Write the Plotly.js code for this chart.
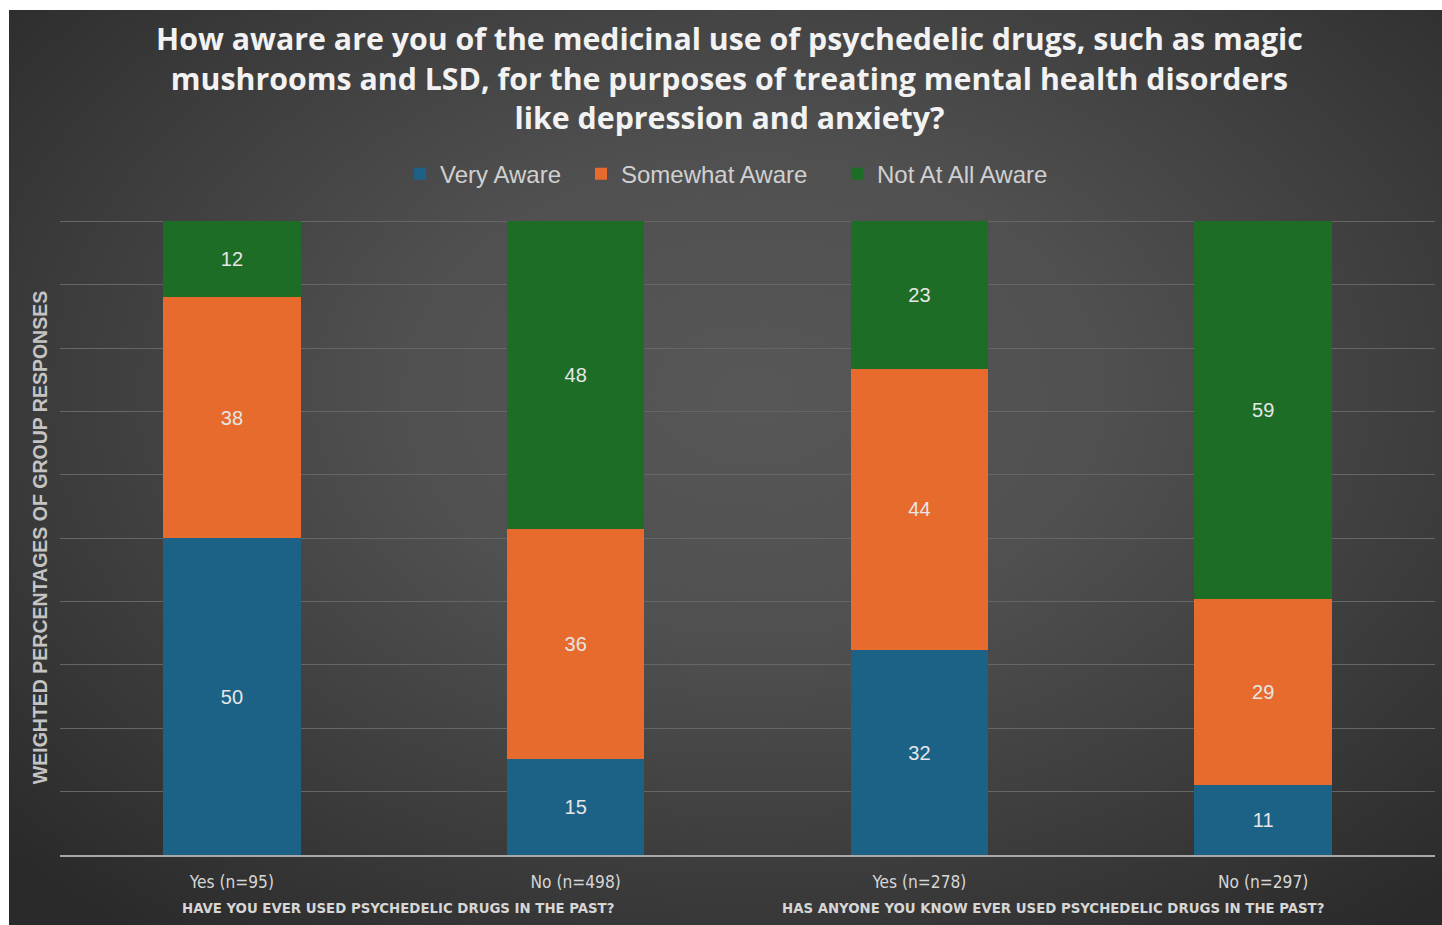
<!DOCTYPE html>
<html>
<head>
<meta charset="utf-8">
<script src="https://cdn.plot.ly/plotly-3.0.1.min.js"></script>
<style>
  html, body { margin: 0; padding: 0; background: #ffffff; width: 1442px; height: 925px; overflow: hidden; }
  #chart {
    position: absolute; left: 9px; top: 10px; width: 1433px; height: 915px;
    background: radial-gradient(ellipse 70% 75% at 52% 42%, #575757 0%, #505050 35%, #3c3c3c 70%, #2a2a2a 100%);
  }
</style>
</head>
<body>
<div id="chart"></div>
<script>
// ---- data ----
const categories = ["Yes (n=95)", "No (n=498)", "Yes (n=278)", "No (n=297)"];
const groupLabels = ["HAVE YOU EVER USED PSYCHEDELIC DRUGS IN THE PAST?", "HAS ANYONE YOU KNOW EVER USED PSYCHEDELIC DRUGS IN THE PAST?"];
const veryAware = [50, 15, 32, 11];
const somewhatAware = [38, 36, 44, 29];
const notAtAllAware = [12, 48, 23, 59];
const seriesNames = ["Very Aware", "Somewhat Aware", "Not At All Aware"];
const titleLines = [
  "How aware are you of the medicinal use of psychedelic drugs, such as magic",
  "mushrooms and LSD, for the purposes of treating mental health disorders",
  "like depression and anxiety?"
];
const yTitle = "WEIGHTED PERCENTAGES OF GROUP RESPONSES";

// ---- styles ----
const colors = ["#1c6287", "#e86b2e", "#1e6d26"];
const legendIds = ["legend", "legend2", "legend3"];
const legendX = [0.2473, 0.3789, 0.5651];
const narrow = "'Liberation Sans Narrow', 'DejaVu Sans Condensed', 'Arial Narrow', sans-serif";
const labelFont = { family: "'Liberation Sans', Arial, sans-serif", size: 20, color: "#e6e6e6" };
const legendFont = { family: "'Liberation Sans', Arial, sans-serif", size: 24, color: "#d0d0d0" };

const seriesValues = [veryAware, somewhatAware, notAtAllAware];
const traces = seriesValues.map((vals, i) => ({
  type: "bar",
  name: seriesNames[i],
  legend: legendIds[i],
  x: categories,
  y: vals,
  text: vals.map(String),
  textposition: "inside",
  insidetextanchor: "middle",
  textangle: 0,
  textfont: labelFont,
  constraintext: "none",
  marker: { color: colors[i], line: { width: 0 } },
  hoverinfo: "name+y"
}));

function legendDef(x) {
  return {
    orientation: "h",
    x: x, xanchor: "left", xref: "paper",
    y: 1.0724, yanchor: "middle",
    font: legendFont,
    bgcolor: "rgba(0,0,0,0)",
    borderwidth: 0
  };
}

const layout = {
  width: 1433,
  height: 915,
  paper_bgcolor: "rgba(0,0,0,0)",
  plot_bgcolor: "rgba(0,0,0,0)",
  barmode: "stack",
  barnorm: "percent",
  bargap: 0.6,
  margin: { l: 51, r: 7, t: 210, b: 70, pad: 0 },
  title: {
    text: titleLines.map(t => '<span style="font-size:30.3px">' + t + '</span>').join("<br>"),
    font: { family: "'Open Sans', 'DejaVu Sans', sans-serif", size: 30.5, color: "#f2f2f2", weight: 700 },
    x: 0.4869, xanchor: "center", xref: "paper",
    y: 1 - 40 / 915, yanchor: "top", yref: "container"
  },
  showlegend: true,
  legend: legendDef(legendX[0]),
  legend2: legendDef(legendX[1]),
  legend3: legendDef(legendX[2]),
  xaxis: {
    type: "category",
    showgrid: false,
    showline: true,
    linecolor: "#a8a8a8",
    linewidth: 2,
    ticks: "",
    ticklabelstandoff: 10,
    tickfont: { family: narrow, size: 17.2, color: "#d6d6d6" },
    zeroline: false,
    fixedrange: true
  },
  yaxis: {
    range: [0, 100.2],
    dtick: 10,
    showticklabels: false,
    showgrid: true,
    gridcolor: "#666666",
    gridwidth: 1,
    zeroline: false,
    showline: false,
    ticks: "",
    fixedrange: true,
    title: {
      text: yTitle,
      font: { family: "'Liberation Sans', Arial, sans-serif", size: 19.5, color: "#c4c4c4", weight: 700 },
      standoff: 6
    }
  },
  annotations: [
    {
      text: groupLabels[0], xref: "x", yref: "paper", x: 0.5, y: 0, yanchor: "top", yshift: -42, xshift: -6,
      showarrow: false, font: { family: narrow, size: 14.8, color: "#d6d6d6", weight: 700 }
    },
    {
      text: groupLabels[1], xref: "x", yref: "paper", x: 2.5, y: 0, yanchor: "top", yshift: -42, xshift: -38,
      showarrow: false, font: { family: narrow, size: 14.8, color: "#d6d6d6", weight: 700 }
    }
  ]
};

Plotly.newPlot("chart", traces, layout, { displayModeBar: false, responsive: false });
</script>
</body>
</html>
